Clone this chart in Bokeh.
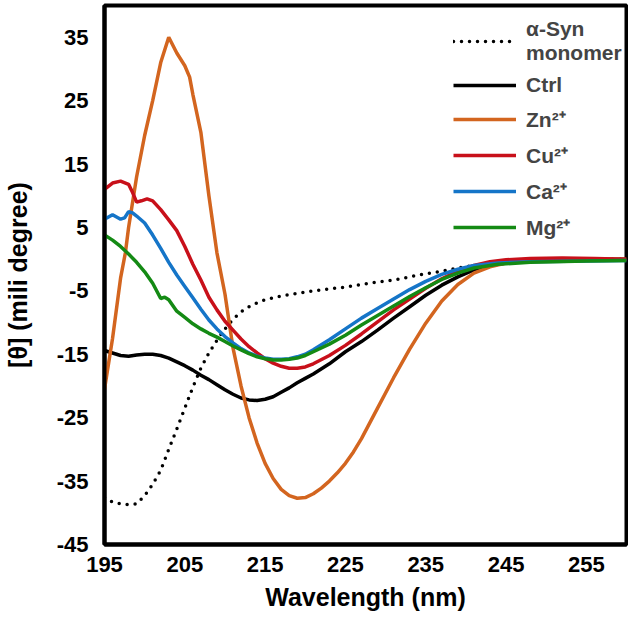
from bokeh.plotting import figure
from bokeh.models import Legend, LegendItem, FixedTicker, Range1d
from bokeh.embed import file_html
from bokeh.resources import INLINE

# ---- data ----
mono_x = [195, 196, 197, 198, 199, 200, 201, 202, 203, 204, 205, 206, 207, 208, 209, 210,
          211, 212, 213, 214, 215, 217, 219, 221, 223, 225, 227, 229, 231, 233, 235, 237,
          239, 241, 243, 245, 250, 255, 260]
mono_y = [-37.6, -38.3, -38.6, -38.7, -38.6, -37.3, -35.5, -33.3, -30.0, -26.8, -23.5, -20.2,
          -17.2, -14.8, -12.8, -11.0, -9.5, -8.3, -7.5, -6.9, -6.4, -5.8, -5.4, -5.0, -4.7,
          -4.4, -4.0, -3.6, -3.3, -2.8, -2.3, -1.9, -1.4, -1.0, -0.7, -0.5, -0.2, -0.1, 0.0]

ctrl_x = [195, 196, 197, 198, 199, 200, 201, 202, 203, 204, 205, 206, 207, 208, 209, 210,
          211, 212, 213, 214, 215, 216, 217, 218, 219, 220, 221, 223, 225, 227, 229, 231,
          233, 235, 237, 239, 241, 243, 245, 248, 252, 260]
ctrl_y = [-14.4, -14.8, -15.2, -15.3, -15.1, -15.0, -15.0, -15.2, -15.6, -16.2, -16.8, -17.5,
          -18.3, -19.0, -19.8, -20.6, -21.3, -21.9, -22.2, -22.3, -22.1, -21.7, -21.0, -20.3,
          -19.5, -18.8, -18.1, -16.5, -14.6, -13.0, -11.2, -9.3, -7.5, -5.7, -4.1, -2.8,
          -1.7, -1.0, -0.6, -0.3, -0.1, 0.0]

zn_x = [195, 196, 197, 197.6, 198, 199, 200, 201, 202, 203, 204, 205, 205.6, 206, 207, 208,
        209, 210, 211, 212, 213, 214, 215, 216, 217, 218, 219, 220, 221, 222, 223, 224,
        225, 226, 227, 228, 229, 231, 233, 235, 237, 239, 241, 243, 245, 247, 250, 255, 260]
zn_y = [-20.5, -12.5, -3.0, 1.0, 5.0, 13.0, 19.5, 25.0, 31.0, 35.0, 32.5, 30.5, 28.7, 26.0,
        20.0, 10.0, 1.0, -5.5, -14.0, -20.0, -25.0, -29.0, -32.2, -34.6, -36.3, -37.3,
        -37.7, -37.6, -37.0, -36.1, -35.0, -33.7, -32.2, -30.4, -28.3, -25.9, -23.5, -18.7,
        -14.2, -10.1, -6.6, -4.0, -2.2, -1.2, -0.6, -0.3, -0.1, 0.0, 0.0]

cu_x = [195, 196, 197, 198, 198.5, 199, 199.6, 200.3, 201, 202, 203, 204, 205, 206, 207,
        208, 209, 210, 211, 212, 213, 214, 215, 216, 217, 218, 219, 220, 221, 223, 225,
        227, 229, 231, 233, 235, 237, 239, 241, 243, 245, 248, 252, 256, 260]
cu_y = [11.0, 12.0, 12.3, 11.8, 10.5, 9.0, 9.2, 9.5, 9.2, 7.8, 6.2, 4.5, 2.0, -0.8, -3.3,
        -6.0, -8.0, -9.8, -11.2, -12.6, -13.8, -14.8, -15.7, -16.4, -16.9, -17.2, -17.2,
        -17.0, -16.5, -15.2, -13.6, -11.8, -9.9, -8.0, -6.3, -4.6, -3.1, -1.9, -1.0, -0.4,
        -0.1, 0.1, 0.2, 0.1, 0.0]

ca_x = [195, 196, 197, 197.5, 198, 198.5, 199, 200, 201, 202, 203, 204, 205, 206, 207, 208,
        209, 210, 211, 212, 213, 214, 215, 216, 217, 218, 219, 220, 221, 223, 225, 227,
        229, 231, 233, 235, 237, 239, 241, 244, 248, 255, 260]
ca_y = [6.3, 7.0, 6.3, 6.5, 7.5, 7.3, 6.8, 5.7, 3.8, 1.7, -0.5, -2.5, -4.3, -6.1, -7.9,
        -9.6, -11.0, -12.2, -13.2, -14.1, -14.8, -15.3, -15.6, -15.8, -15.8, -15.7, -15.4,
        -15.0, -14.3, -12.7, -11.0, -9.3, -7.8, -6.3, -4.8, -3.5, -2.4, -1.6, -1.0, -0.6,
        -0.4, -0.3, -0.2]

mg_x = [195, 196, 197, 198, 199, 200, 201, 202, 202.5, 203, 204, 205, 206, 207, 208, 209,
        210, 211, 212, 213, 214, 215, 216, 217, 218, 219, 220, 221, 223, 225, 227, 229,
        231, 233, 235, 237, 239, 241, 244, 248, 255, 260]
mg_y = [3.8, 3.0, 2.0, 0.8, -0.5, -2.0, -3.8, -6.2, -6.0, -6.4, -8.2, -9.2, -10.2, -11.0,
        -11.7, -12.3, -13.0, -13.7, -14.3, -14.9, -15.4, -15.7, -15.9, -15.9, -15.8, -15.6,
        -15.2, -14.6, -13.4, -12.0, -10.4, -8.9, -7.4, -5.9, -4.5, -3.2, -2.2, -1.4, -0.8,
        -0.5, -0.3, -0.2]

x_ticks = [195, 205, 215, 225, 235, 245, 255]
y_ticks = [-45, -35, -25, -15, -5, 5, 15, 25, 35]
y_tick_labels = ["-45", "-35", "-25", "-15", "-5", "5", "15", "25", "35"]

FONT = "Liberation Sans"

p = figure(width=628, height=613, output_backend="svg", toolbar_location=None,
           x_range=Range1d(195, 260), y_range=Range1d(-45, 40))
p.min_border_left = 100
p.min_border_right = 2
p.min_border_top = 5
p.min_border_bottom = 64

p.xgrid.visible = False
p.ygrid.visible = False
p.outline_line_color = "black"
p.outline_line_width = 4

for ax in (p.xaxis[0], p.yaxis[0]):
    ax.axis_line_width = 4
    ax.axis_line_color = "black"
    ax.major_tick_line_color = None
    ax.minor_tick_line_color = None
    ax.major_label_text_font = FONT
    ax.major_label_text_font_style = "bold"
    ax.major_label_text_font_size = "22px"
    ax.major_label_text_color = "black"
    ax.axis_label_text_font = FONT
    ax.axis_label_text_font_style = "bold"
    ax.axis_label_text_font_size = "25px"
    ax.axis_label_text_color = "black"

p.xaxis.ticker = FixedTicker(ticks=x_ticks)
p.yaxis.ticker = FixedTicker(ticks=y_ticks)
p.yaxis.major_label_overrides = {t: s for t, s in zip(y_ticks, y_tick_labels)}
p.xaxis.axis_label = "Wavelength (nm)"
p.yaxis.axis_label = "[θ] (mili degree)"
p.xaxis.major_label_standoff = 6
p.xaxis.axis_label_standoff = 8
p.yaxis.major_label_standoff = 10
p.yaxis.axis_label_standoff = 22

r_mono = p.line(mono_x, mono_y, line_color="black", line_width=3.5, line_dash="0 8",
                line_cap="round")
r_ctrl = p.line(ctrl_x, ctrl_y, line_color="black", line_width=3.5)
r_zn = p.line(zn_x, zn_y, line_color="#D3651F", line_width=3.5)
r_cu = p.line(cu_x, cu_y, line_color="#C8101A", line_width=3.5)
r_ca = p.line(ca_x, ca_y, line_color="#1575C8", line_width=3.5)
r_mg = p.line(mg_x, mg_y, line_color="#148A14", line_width=3.5)

legend = Legend(items=[
    LegendItem(label="α-Syn\nmonomer", renderers=[r_mono]),
    LegendItem(label="Ctrl", renderers=[r_ctrl]),
    LegendItem(label="Zn²⁺", renderers=[r_zn]),
    LegendItem(label="Cu²⁺", renderers=[r_cu]),
    LegendItem(label="Ca²⁺", renderers=[r_ca]),
    LegendItem(label="Mg²⁺", renderers=[r_mg]),
], location=(349, 303))
legend.border_line_color = None
legend.background_fill_alpha = 0
legend.label_text_font = FONT
legend.label_text_font_style = "bold"
legend.label_text_font_size = "21px"
legend.label_text_line_height = 1.05
legend.glyph_width = 63
legend.glyph_height = 22
legend.label_standoff = 10
legend.spacing = 8
legend.padding = 4
legend.margin = 0
p.add_layout(legend)

open("out.html", "w").write(file_html(p, INLINE))
